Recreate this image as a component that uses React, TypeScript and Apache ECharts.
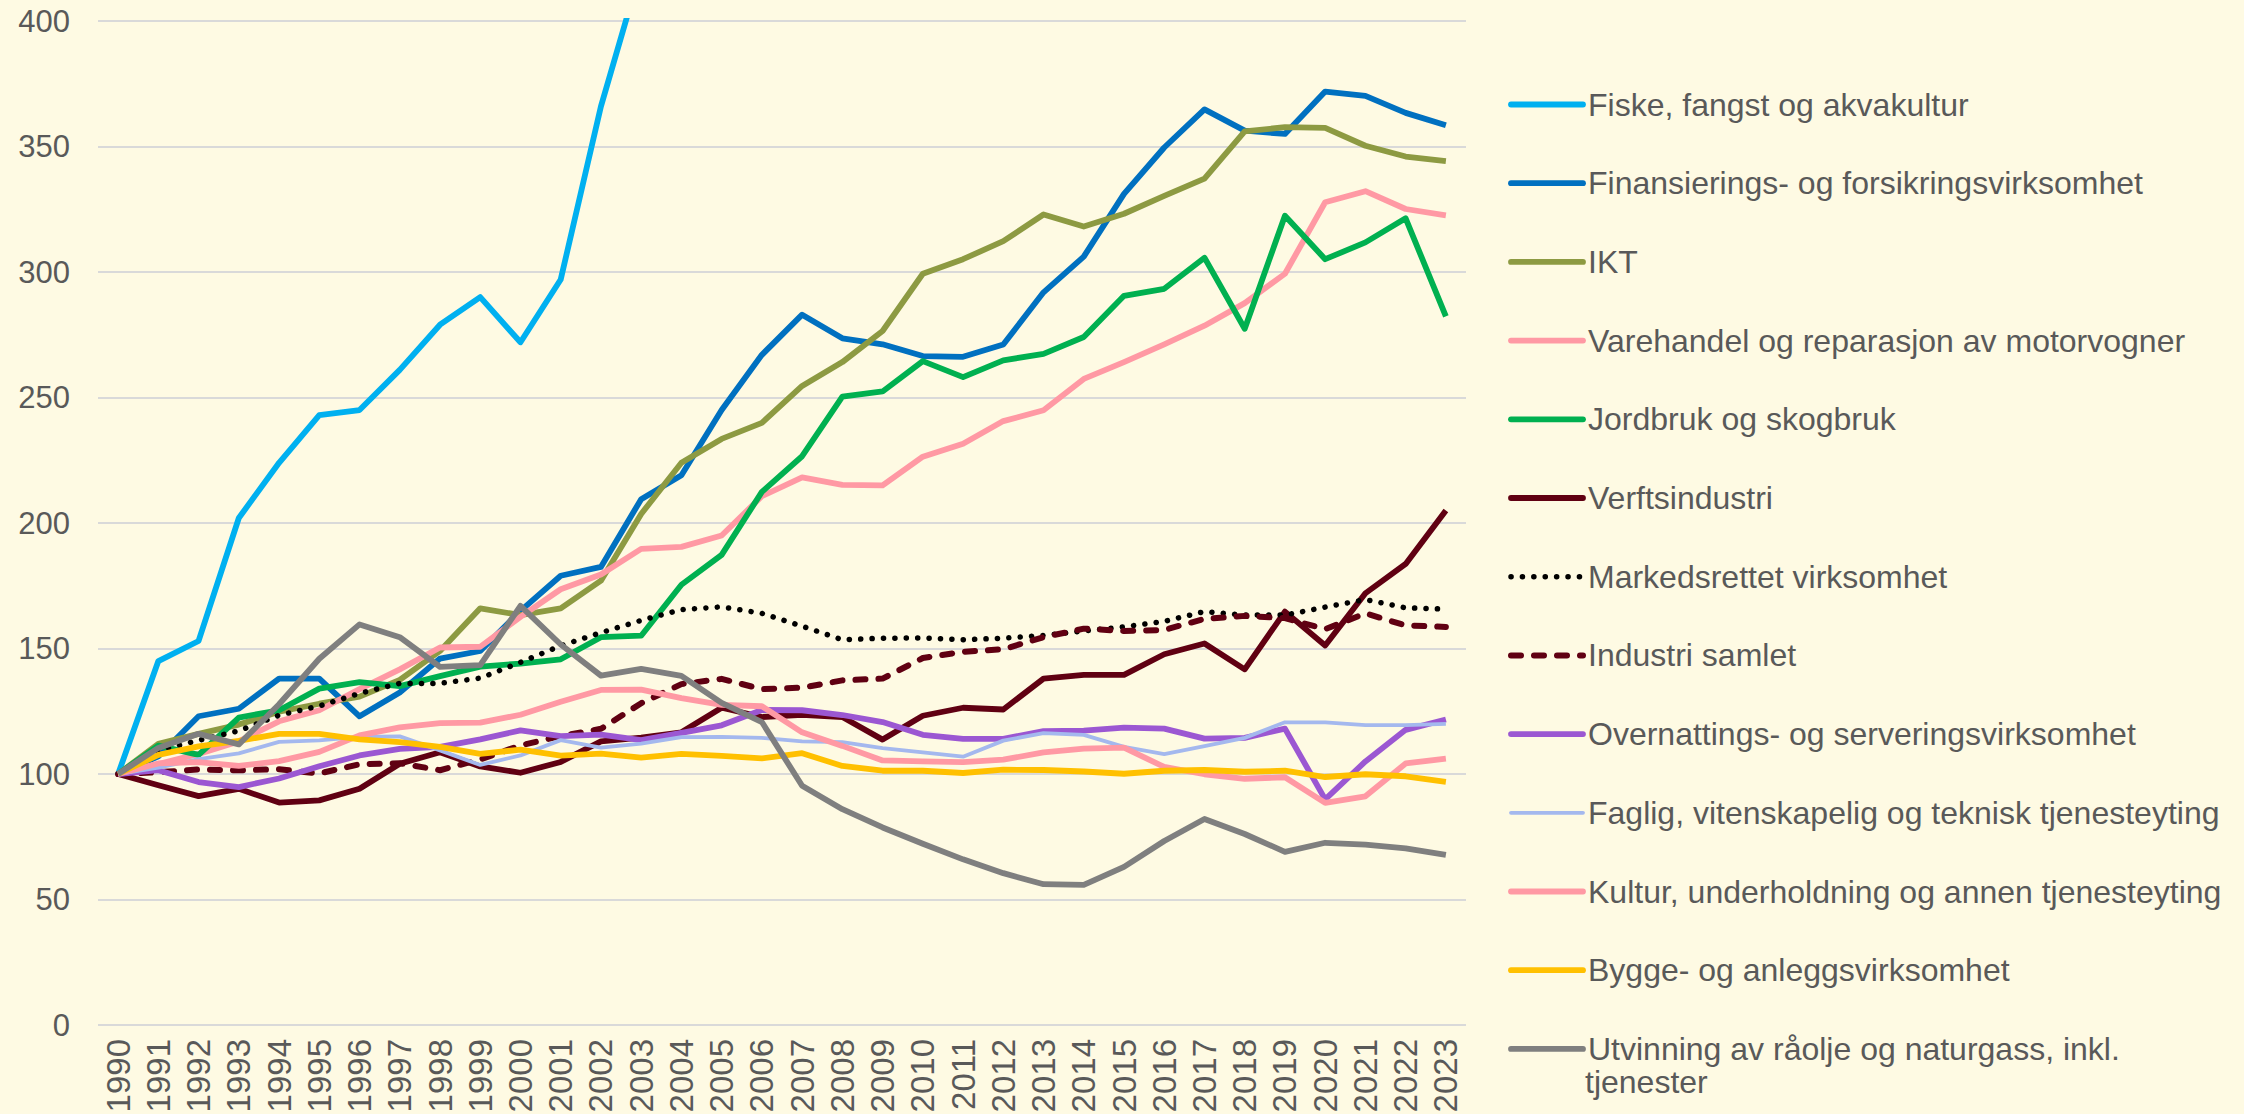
import React, { useEffect, useRef } from "react";
import * as echarts from "echarts";

const years = [
  "1990", "1991", "1992", "1993", "1994", "1995", "1996", "1997", "1998", "1999",
  "2000", "2001", "2002", "2003", "2004", "2005", "2006", "2007", "2008", "2009",
  "2010", "2011", "2012", "2013", "2014", "2015", "2016", "2017", "2018", "2019",
  "2020", "2021", "2022", "2023",
];

const fiske = [100, 145, 153, 202, 224, 243, 245, 261, 279, 290, 272, 297, 366, 421,
  null, null, null, null, null, null, null, null, null, null, null, null, null, null, null, null, null, null, null, null];
const finans = [100, 107, 123, 126, 138, 138, 123, 132.5, 146, 149, 165, 179, 182.5, 209.5, 219, 245, 267, 283, 273.6, 271.2,
  266.5, 266.2, 271.1, 291.9, 306.1, 331.1, 349.6, 364.8, 356.3, 355, 371.9, 370.2, 363.4, 358.5];
const ikt = [100, 112, 116, 119.7, 124.8, 128, 130.8, 137.5, 149, 166, 163.3, 166, 177, 203.6, 224, 233.5, 239.9, 254.6, 264.1, 276.5,
  299.3, 305.1, 312.3, 322.9, 318.1, 323.2, 330.3, 337.2, 356, 357.7, 357.4, 350.3, 346, 344.2];
const varehandel = [100, 104, 108, 113, 121, 125.4, 133.8, 141.7, 150.4, 150.7, 162.6, 173.6, 179.5, 189.7, 190.5, 195, 210.7, 218.2, 215.2, 215,
  226.4, 231.6, 240.6, 244.9, 257.4, 264.1, 271.2, 278.6, 287.6, 299.3, 327.8, 332.2, 325.1, 322.6];
const jordbruk = [100, 111.3, 107.6, 122.5, 125.4, 134, 136.6, 135, 139, 142.8, 144, 145.7, 154.5, 155.1, 175.4, 187.3, 212.4, 226.6, 250.3, 252.4,
  264.5, 258.1, 264.8, 267.4, 274.1, 290.5, 293.3, 305.7, 277.4, 322.4, 305.1, 311.8, 321.4, 282.3];
const verft = [100, 95.5, 91.2, 94.1, 88.6, 89.5, 94.1, 104.1, 108.7, 103, 100.5, 104.8, 113, 114.5, 116.6, 126.4, 122.7, 123.6, 122.7, 113.7,
  123.2, 126.4, 125.7, 138, 139.5, 139.5, 147.7, 152, 141.7, 164.7, 151.2, 172, 183.7, 205];
const markedsrettet = [100, 109.4, 113.4, 117.2, 123.4, 127.1, 132.1, 136.1, 136.1, 138.2, 144.5, 151.1, 156.3, 161.2, 165.5, 166.6, 164, 158.9, 153.5, 154.1,
  154.2, 153.5, 154.1, 155.2, 157, 158.6, 160.8, 164.7, 163.3, 163.3, 166.5, 169.5, 166.2, 165.7];
const industri = [100, 100.7, 101.8, 101.5, 101.9, 100.2, 103.9, 104.3, 101.5, 105.8, 111.4, 115.1, 118, 128.2, 135.8, 137.9, 133.8, 134.4, 137.3, 138,
  146.2, 148.7, 149.7, 154.5, 157.9, 157, 157.4, 161.8, 163, 162.1, 157.7, 164, 159.2, 158.6];
const overnatting = [100, 101.5, 96.8, 94.8, 98.2, 103.1, 107.4, 110, 110.8, 113.8, 117.4, 115.1, 115.7, 113.5, 116.4, 119.4, 125.5, 125.4, 123.5, 120.7,
  115.6, 114, 114, 117.1, 117.3, 118.5, 118.1, 114.1, 114.4, 118.1, 89.9, 105, 117.6, 121.7];
const faglig = [100, 102.5, 105.9, 108.2, 112.8, 113.4, 114.8, 115, 109.4, 103.6, 107.4, 113.5, 110.5, 112.1, 114.7, 114.8, 114.4, 113, 112.7, 110.3,
  108.6, 106.9, 113.3, 116.3, 115.6, 110.8, 107.9, 111.1, 114.4, 120.6, 120.6, 119.5, 119.5, 120];
const kultur = [100, 104.2, 104.7, 103.2, 105.1, 108.8, 115.4, 118.6, 120.3, 120.5, 123.6, 128.8, 133.5, 133.6, 130.2, 127.5, 127, 116.6, 111.2, 105.4,
  105, 104.7, 105.7, 108.6, 110.1, 110.5, 102.8, 99.9, 98.1, 98.7, 88.5, 91.1, 104.2, 106.1];
const bygge = [100, 107.6, 111, 113.2, 116, 116, 113.8, 112.7, 110.8, 108, 109.7, 107.3, 108.1, 106.5, 108, 107.2, 106.2, 108.3, 103.2, 101.3,
  101.3, 100.4, 101.7, 101.6, 101, 100.1, 101.3, 101.6, 100.9, 101.3, 98.8, 99.9, 99.1, 96.9];
const utvinning = [100, 110.4, 116, 111.8, 127.8, 145.9, 159.6, 154.5, 142.7, 143.4, 167, 151.6, 139.2, 141.9, 139.1, 128.3, 120.7, 95.3, 86, 78.7,
  72.2, 66, 60.5, 56.1, 55.8, 63, 73.3, 82.1, 76.1, 69, 72.6, 71.9, 70.4, 67.8];

const seriesNames = [
  "Fiske, fangst og akvakultur",
  "Finansierings- og forsikringsvirksomhet",
  "IKT",
  "Varehandel og reparasjon av motorvogner",
  "Jordbruk og skogbruk",
  "Verftsindustri",
  "Markedsrettet virksomhet",
  "Industri samlet",
  "Overnattings- og serveringsvirksomhet",
  "Faglig, vitenskapelig og teknisk tjenesteyting",
  "Kultur, underholdning og annen tjenesteyting",
  "Bygge- og anleggsvirksomhet",
  "Utvinning av råolje og naturgass, inkl. tjenester",
];

const yMin = 0;
const yMax = 400;
const yInterval = 50;

const BG = "#FEFAE3";
const TEXT = "#595959";
const FONT = '"Liberation Sans", Arial, sans-serif';

export default function App() {
  const ref = useRef<HTMLDivElement>(null);

  useEffect(() => {
    document.body.style.margin = "0";
    document.body.style.background = BG;
    if (!ref.current) return;
    const chart = echarts.init(ref.current, null, { renderer: "svg" });

    const dataSets = [fiske, finans, ikt, varehandel, jordbruk, verft, markedsrettet, industri,
      overnatting, faglig, kultur, bygge, utvinning];
    const styles: any[] = [
      { color: "#00B0F0", width: 5.8 },
      { color: "#0070C0", width: 5.8 },
      { color: "#8D9A42", width: 5.8 },
      { color: "#FF99A4", width: 5.8 },
      { color: "#00B050", width: 5.8 },
      { color: "#600012", width: 5.8 },
      { color: "#000000", width: 5.5, type: [0.1, 11.3], cap: "round" },
      { color: "#600012", width: 6, type: [10, 13], cap: "round" },
      { color: "#9B57D2", width: 5.8 },
      { color: "#A4B8EE", width: 3.8 },
      { color: "#FF99A4", width: 5.8 },
      { color: "#FFC000", width: 5.8 },
      { color: "#7F7F7F", width: 5.8 },
    ];

    const series = seriesNames.map((name, i) => ({
      type: "line",
      name,
      data: dataSets[i],
      symbol: "none",
      showSymbol: false,
      connectNulls: false,
      clip: true,
      lineStyle: { ...styles[i], join: "round" },
      itemStyle: { color: styles[i].color },
      emphasis: { disabled: true },
    }));

    const legendData = seriesNames.map((name, i) => ({
      name,
      itemStyle: { opacity: 0 },
      lineStyle: {
        color: styles[i].color,
        width: styles[i].width,
        type: styles[i].type || "solid",
        cap: styles[i].cap || "round",
      },
    }));

    chart.setOption({
      animation: false,
      backgroundColor: BG,
      textStyle: { fontFamily: FONT },
      grid: {
        left: 98,
        right: 778,
        top: 21,
        bottom: 89,
        containLabel: false,
        outerBoundsMode: "none",
      },
      xAxis: {
        type: "category",
        data: years,
        boundaryGap: true,
        axisLine: { show: false },
        axisTick: { show: false },
        axisLabel: {
          rotate: 90,
          margin: 14,
          fontSize: 33,
          color: TEXT,
          fontFamily: FONT,
          interval: 0,
        },
        splitLine: { show: false },
      },
      yAxis: {
        type: "value",
        min: yMin,
        max: yMax,
        interval: yInterval,
        axisLine: { show: false },
        axisTick: { show: false },
        axisLabel: { margin: 28, fontSize: 31, color: TEXT, fontFamily: FONT },
        splitLine: { show: true, lineStyle: { color: "#D9D9D9", width: 2 } },
      },
      legend: {
        orient: "vertical",
        left: 1508,
        top: 86,
        padding: 0,
        itemWidth: 72,
        itemHeight: 14,
        itemGap: 41.7,
        selectedMode: false,
        data: legendData,
        itemStyle: { opacity: 0 },
        formatter: (name: string) =>
          name === "Utvinning av råolje og naturgass, inkl. tjenester"
            ? "Utvinning av råolje og naturgass, inkl."
            : name,
        textStyle: {
          fontSize: 32,
          lineHeight: 37,
          color: TEXT,
          fontFamily: FONT,
        },
      },
      graphic: [
        {
          type: "text",
          x: 1585,
          y: 1082,
          style: {
            text: "tjenester",
            fontSize: 32,
            fontFamily: FONT,
            fill: TEXT,
            verticalAlign: "middle",
          },
        },
      ],
      tooltip: { show: false },
      series,
    });

    return () => chart.dispose();
  }, []);

  return (
    <div style={{ position: "fixed", left: 0, top: 0, width: 2244, height: 1114, background: BG }}>
      <div ref={ref} style={{ width: 2244, height: 1114 }} />
    </div>
  );
}
